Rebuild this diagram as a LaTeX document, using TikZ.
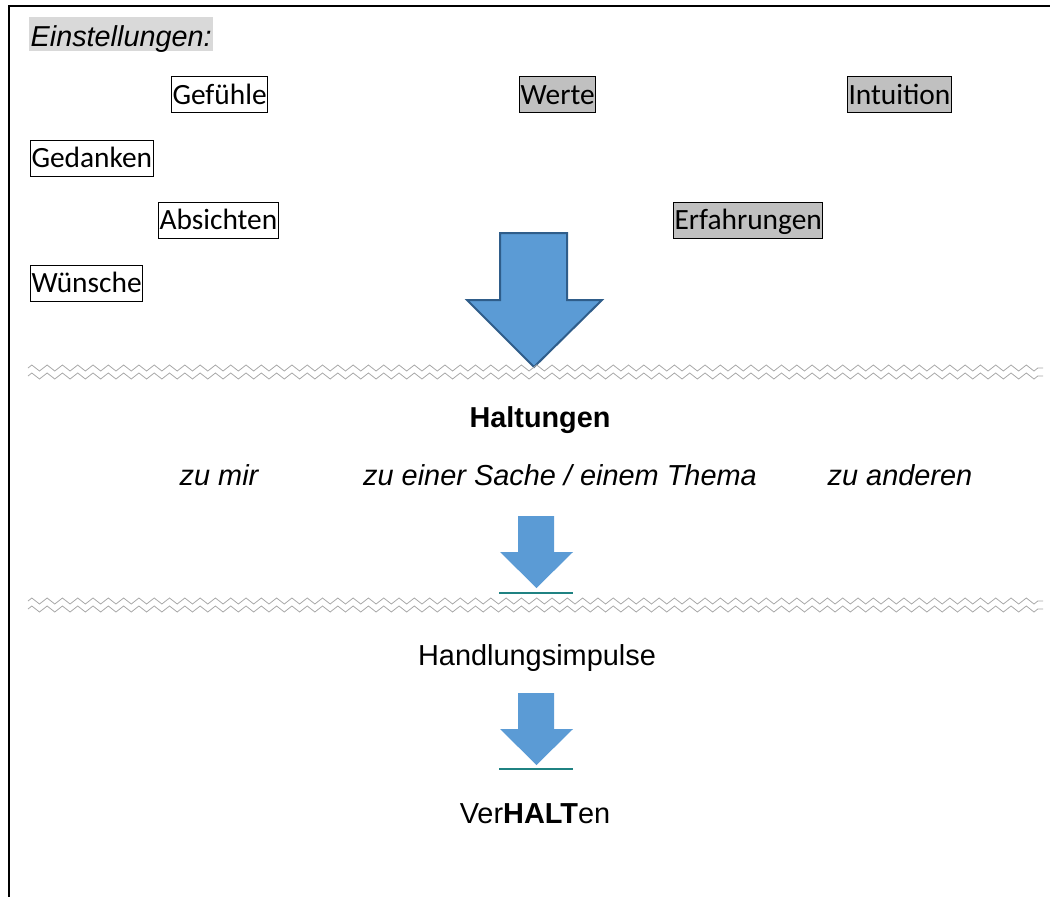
\documentclass[tikz,border=0pt]{standalone}
\usepackage{fontspec}
\setmainfont{Liberation Sans}
\newfontfamily\calib{Carlito}
\usetikzlibrary{decorations.pathmorphing}
\definecolor{arrfill}{HTML}{5B9BD5}
\definecolor{arrline}{HTML}{2F5D8A}
\definecolor{tealline}{HTML}{1F8282}
\definecolor{boxgray}{HTML}{C0C0C0}
\definecolor{hlgray}{HTML}{D9D9D9}
\definecolor{wavegray}{HTML}{A8A8A8}
\begin{document}
\begin{tikzpicture}[x=1pt,y=-1pt,
 word/.style={draw=black, line width=1pt, inner xsep=1pt, inner ysep=0pt, text height=27.5pt, text depth=8.5pt, anchor=base west, font=\calib\fontsize{29.4}{34}\selectfont},
 plainbox/.style={fill=white},
 shadedbox/.style={fill=boxgray},
 lbl/.style={anchor=base, inner sep=0pt, font=\fontsize{28.9}{34}\selectfont},
 wave/.style={draw=wavegray, line width=0.8pt, decorate, decoration={zigzag, amplitude=3pt, segment length=15.3pt}},
 bigarrow/.style={fill=arrfill, draw=arrline, line width=2pt, line join=miter},
 smallarrow/.style={fill=arrfill},
 uline/.style={draw=tealline, line width=2pt}
]
\useasboundingbox (0,0) rectangle (1050,897);
% frame
\draw[line width=2.5pt] (9,897) -- (9,6) -- (1050,6);
% heading
\node[fill=hlgray, anchor=base west, inner xsep=1.5pt, inner ysep=0pt, text height=29.5pt, text depth=4.5pt, font=\itshape\fontsize{28.8}{34}\selectfont] (einst) at (29,46.5) {Einstellungen:};
% word boxes
\node[word, plainbox] (gef) at (171,104) {Gefühle};
\node[word, shadedbox] (wer) at (519,104) {Werte};
\node[word, shadedbox] (int) at (847,104) {Intuition};
\node[word, plainbox] (ged) at (30,167.5) {Gedanken};
\node[word, plainbox] (abs) at (158,229.5) {Absichten};
\node[word, shadedbox] (erf) at (673,229.5) {Erfahrungen};
\node[word, plainbox] (wun) at (30,292.5) {Wünsche};
% big arrow
\draw[bigarrow] (500,233) -- (567,233) -- (567,300) -- (602,300) -- (534,367) -- (467,300) -- (500,300) -- cycle;
% waves
\draw[wave] (28,368) -- (1043,368);
\draw[wave] (28,376) -- (1043,376);
% Haltungen
\node[lbl, font=\bfseries\fontsize{28.8}{34}\selectfont] (halt) at (540,427) {Haltungen};
\node[lbl, font=\itshape\fontsize{28.9}{34}\selectfont] (zumir) at (219,485) {zu mir};
\node[lbl, font=\itshape\fontsize{28.9}{34}\selectfont] (zusache) at (560,485) {zu einer Sache / einem Thema};
\node[lbl, font=\itshape\fontsize{28.9}{34}\selectfont] (zuand) at (900,485) {zu anderen};
% small arrow 1
\fill[smallarrow] (518,516) -- (554,516) -- (554,552) -- (573,552) -- (536.5,588) -- (500,552) -- (518,552) -- cycle;
\draw[uline] (499,593) -- (573,593);
% waves 2
\draw[wave] (28,601) -- (1043,601);
\draw[wave] (28,609) -- (1043,609);
% Handlungsimpulse
\node[lbl] (hand) at (537,665) {Handlungsimpulse};
% small arrow 2
\fill[smallarrow] (518,693) -- (554,693) -- (554,729) -- (573,729) -- (536.5,765) -- (500,729) -- (518,729) -- cycle;
\draw[uline] (499,769) -- (573,769);
% Verhalten
\node[lbl] (verh) at (535,823) {Ver\textbf{HALT}en};
\end{tikzpicture}
\end{document}
